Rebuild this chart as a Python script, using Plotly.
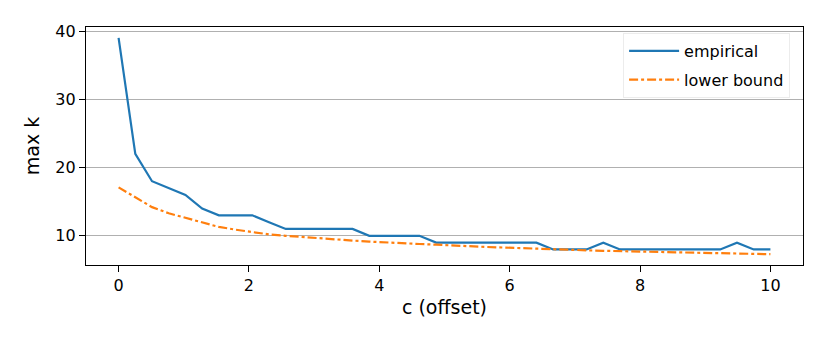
import numpy as np
import plotly.graph_objects as go

# data
# ---------------------------------
c_offset = np.linspace(0, 10, 40)

empirical = [39, 22, 18, 17, 16, 14, 13, 13, 13, 12,
             11, 11, 11, 11, 11, 10, 10, 10, 10, 9,
             9, 9, 9, 9, 9, 9, 8, 8, 8, 9,
             8, 8, 8, 8, 8, 8, 8, 9, 8, 8]

lower_bound = [17.1, 15.6, 14.2, 13.3, 12.6, 11.9, 11.3, 10.9, 10.5, 10.2,
               10.0, 9.8, 9.6, 9.45, 9.3, 9.15, 9.0, 8.9, 8.8, 8.7,
               8.55, 8.45, 8.36, 8.28, 8.18, 8.08, 8.0, 7.93, 7.87, 7.8,
               7.74, 7.68, 7.62, 7.57, 7.52, 7.47, 7.42, 7.38, 7.34, 7.3]

x_ticks = [0, 2, 4, 6, 8, 10]
y_ticks = [10, 20, 30, 40]

# build the figure
# ----------------
fig = go.Figure()
fig.add_trace(go.Scatter(x=c_offset, y=empirical, mode='lines', name='empirical',
                         legendgroup='emp',
                         line=dict(color='#1f77b4', width=2.2)))
fig.add_trace(go.Scatter(x=c_offset, y=lower_bound, mode='lines', name='lower bound',
                         legendgroup='lb',
                         line=dict(color='#ff7f0e', width=2.2, dash='dashdot')))

# page body has an 8px margin, so the figure is a bit smaller than the window
fig.update_layout(
    width=822, height=338,
    margin=dict(l=78, r=27, t=19, b=81, autoexpand=False),
    paper_bgcolor='white', plot_bgcolor='white',
    font=dict(family='DejaVu Sans', size=16, color='black'),
    showlegend=True,
    legend=dict(x=0.982, y=0.975, xanchor='right', yanchor='top',
                bgcolor='rgba(255,255,255,0.8)', bordercolor='#ececec', borderwidth=1,
                font=dict(size=16), itemwidth=50, tracegroupgap=5,
                ),
)
fig.update_xaxes(range=[-0.5, 10.5], tickvals=x_ticks, showgrid=False, zeroline=False,
                 showline=True, linecolor='black', linewidth=1.2, mirror=True,
                 ticks='outside', ticklen=6, tickcolor='black', automargin=False,
                 title=dict(text='c (offset)', standoff=6))
fig.update_yaxes(range=[5.72, 40.6], tickvals=y_ticks, showgrid=True, gridcolor='#b0b0b0',
                 gridwidth=1, zeroline=False,
                 showline=True, linecolor='black', linewidth=1.2, mirror=True,
                 ticks='outside', ticklen=6, tickcolor='black', automargin=False,
                 title=dict(text='max k', standoff=10))

fig.write_html("out.html")
